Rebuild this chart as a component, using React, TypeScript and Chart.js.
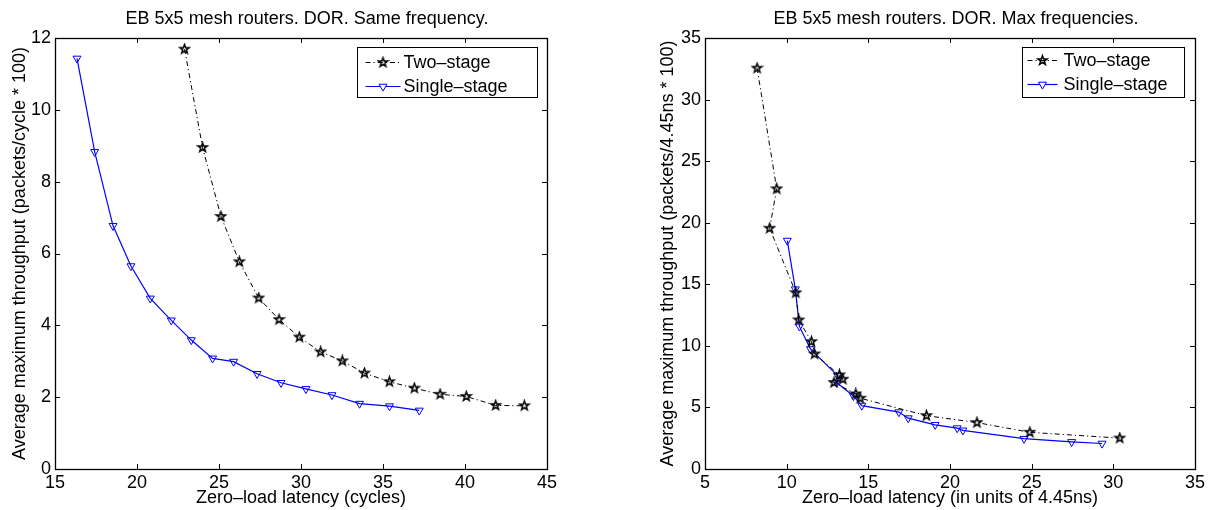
import React, { useEffect, useRef } from 'react';
import { Chart, registerables } from 'chart.js';

Chart.register(...registerables);

const FONT = "'Liberation Sans', Arial, Helvetica, sans-serif";

// ---------- Left chart: same frequency ----------
const leftTitle = 'EB 5x5 mesh routers. DOR. Same frequency.';
const leftXLabel = 'Zero–load latency (cycles)';
const leftYLabel = 'Average maximum throughput (packets/cycle * 100)';
const leftXTicks = [15, 20, 25, 30, 35, 40, 45];
const leftYTicks = [0, 2, 4, 6, 8, 10, 12];
const leftTwoStageX = [22.9, 24.0, 25.12, 26.24, 27.42, 28.66, 29.9, 31.2, 32.52, 33.87, 35.39, 36.91, 38.48, 40.08, 41.87, 43.62];
const leftTwoStageY = [11.69, 8.95, 7.03, 5.77, 4.76, 4.16, 3.67, 3.26, 3.01, 2.67, 2.43, 2.25, 2.08, 2.02, 1.77, 1.76];
const leftSingleStageX = [16.34, 17.42, 18.54, 19.63, 20.81, 22.09, 23.31, 24.61, 25.89, 27.32, 28.78, 30.3, 31.89, 33.57, 35.4, 37.21];
const leftSingleStageY = [11.43, 8.83, 6.77, 5.65, 4.75, 4.14, 3.59, 3.08, 2.99, 2.65, 2.4, 2.23, 2.06, 1.82, 1.75, 1.63];

// ---------- Right chart: max frequencies ----------
const rightTitle = 'EB 5x5 mesh routers. DOR. Max frequencies.';
const rightXLabel = 'Zero–load latency (in units of 4.45ns)';
const rightYLabel = 'Average maximum throughput (packets/4.45ns * 100)';
const rightXTicks = [5, 10, 15, 20, 25, 30, 35];
const rightYTicks = [0, 5, 10, 15, 20, 25, 30, 35];
const rightTwoStageX = [8.19, 9.39, 8.96, 10.56, 10.74, 11.52, 11.71, 13.23, 13.44, 12.9, 14.23, 14.5, 18.56, 21.65, 24.89, 30.39];
const rightTwoStageY = [32.55, 22.75, 19.55, 14.31, 12.1, 10.34, 9.34, 7.64, 7.29, 7.02, 6.1, 5.75, 4.33, 3.77, 2.98, 2.51];
const rightSingleStageX = [10.04, 10.53, 10.78, 11.46, 13.12, 13.05, 14.09, 14.6, 16.87, 17.44, 19.09, 20.44, 20.79, 24.53, 27.45, 29.31];
const rightSingleStageY = [18.55, 14.6, 11.58, 9.74, 7.58, 7.02, 5.93, 5.15, 4.62, 4.13, 3.59, 3.32, 3.14, 2.46, 2.2, 2.07];

const seriesNames = ['Two–stage', 'Single–stage'];

function makeStar(): HTMLCanvasElement {
  const c = document.createElement('canvas');
  c.width = 13;
  c.height = 13;
  const ctx = c.getContext('2d')!;
  const cx = 6.5, cy = 6.5, R = 4.8, r = 1.9;
  ctx.beginPath();
  for (let i = 0; i < 10; i++) {
    const rad = (Math.PI / 5) * i - Math.PI / 2;
    const rr = i % 2 === 0 ? R : r;
    const x = cx + Math.cos(rad) * rr;
    const y = cy + Math.sin(rad) * rr;
    if (i === 0) ctx.moveTo(x, y);
    else ctx.lineTo(x, y);
  }
  ctx.closePath();
  ctx.strokeStyle = '#000';
  ctx.lineWidth = 1.5;
  ctx.lineJoin = 'miter';
  ctx.stroke();
  return c;
}

const pts = (xs: number[], ys: number[]) => xs.map((x, i) => ({ x, y: ys[i] }));

const framePlugin = {
  id: 'matlabFrame',
  afterDraw(chart: any) {
    const { ctx, chartArea: a, scales } = chart;
    ctx.save();
    ctx.strokeStyle = '#000';
    ctx.lineWidth = 1;
    ctx.beginPath();
    const tl = 5;
    scales.x.ticks.forEach((t: any) => {
      const px = Math.round(scales.x.getPixelForValue(t.value)) + 0.5;
      ctx.moveTo(px, a.bottom);
      ctx.lineTo(px, a.bottom - tl);
      ctx.moveTo(px, a.top);
      ctx.lineTo(px, a.top + tl);
    });
    scales.y.ticks.forEach((t: any) => {
      const py = Math.round(scales.y.getPixelForValue(t.value)) + 0.5;
      ctx.moveTo(a.left, py);
      ctx.lineTo(a.left + tl, py);
      ctx.moveTo(a.right, py);
      ctx.lineTo(a.right - tl, py);
    });
    ctx.stroke();
    ctx.lineWidth = 1.3;
    ctx.strokeRect(Math.round(a.left) + 0.5, Math.round(a.top) + 0.5, Math.round(a.right - a.left), Math.round(a.bottom - a.top));
    ctx.restore();
  },
};

function makeTitlePlugin(text: string, dx: number, baseline: number) {
  return {
    id: 'centerTitle',
    afterDraw(chart: any) {
      const { ctx, chartArea: a } = chart;
      ctx.save();
      ctx.font = `18px ${FONT}`;
      ctx.fillStyle = '#000';
      ctx.textAlign = 'center';
      ctx.textBaseline = 'alphabetic';
      ctx.fillText(text, (a.left + a.right) / 2 + dx, baseline);
      ctx.restore();
    },
  };
}

interface LegendCfg {
  rightOffset: number;
  topOffset: number;
  width: number;
  height: number;
  rowTop: number;
  rowGap: number;
  lineStart: number;
  lineLen: number;
  textStart: number;
}

function makeLegendPlugin(cfg: LegendCfg, star: HTMLCanvasElement) {
  return {
    id: 'boxLegend',
    afterDraw(chart: any) {
      const { ctx, chartArea: a } = chart;
      const x0 = Math.round(a.right - cfg.rightOffset - cfg.width) + 0.5;
      const y0 = Math.round(a.top + cfg.topOffset) + 0.5;
      ctx.save();
      ctx.fillStyle = '#fff';
      ctx.fillRect(x0, y0, cfg.width, cfg.height);
      ctx.strokeStyle = '#000';
      ctx.lineWidth = 1;
      ctx.strokeRect(x0, y0, cfg.width, cfg.height);
      chart.data.datasets.forEach((ds: any, i: number) => {
        const y = Math.round(y0 + cfg.rowTop + i * cfg.rowGap) + 0.5;
        ctx.strokeStyle = ds.borderColor;
        ctx.lineWidth = ds.borderWidth;
        ctx.setLineDash(ds.borderDash || []);
        ctx.beginPath();
        ctx.moveTo(x0 + cfg.lineStart, y);
        ctx.lineTo(x0 + cfg.lineStart + cfg.lineLen, y);
        ctx.stroke();
        ctx.setLineDash([]);
        const cx = x0 + cfg.lineStart + cfg.lineLen / 2;
        if (ds.pointStyle === 'triangle') {
          const r = ds.pointRadius;
          ctx.strokeStyle = ds.pointBorderColor;
          ctx.lineWidth = ds.pointBorderWidth;
          ctx.beginPath();
          ctx.moveTo(cx, y + r);
          ctx.lineTo(cx - r * 0.866, y - r / 2);
          ctx.lineTo(cx + r * 0.866, y - r / 2);
          ctx.closePath();
          ctx.fillStyle = '#fff';
          ctx.fill();
          ctx.stroke();
        } else {
          ctx.drawImage(star, cx - star.width / 2, y - star.height / 2);
        }
        ctx.fillStyle = '#000';
        ctx.font = `18px ${FONT}`;
        ctx.textAlign = 'left';
        ctx.textBaseline = 'middle';
        ctx.fillText(ds.label, x0 + cfg.textStart, y + 1);
      });
      ctx.restore();
    },
  };
}

interface PanelProps {
  title: string;
  xLabel: string;
  yLabel: string;
  xTicks: number[];
  yTicks: number[];
  twoX: number[];
  twoY: number[];
  singleX: number[];
  singleY: number[];
  width: number;
  padLeft: number;
  padRight: number;
  yAxisWidth: number;
  legend: LegendCfg;
  titleDx: number;
  titleBaseline: number;
}

function Panel(p: PanelProps) {
  const ref = useRef<HTMLCanvasElement | null>(null);
  useEffect(() => {
    if (!ref.current) return;
    const star = makeStar();
    const tickFont = { family: FONT, size: 18 };
    const chart = new Chart(ref.current, {
      type: 'scatter',
      data: {
        datasets: [
          {
            label: seriesNames[0],
            data: pts(p.twoX, p.twoY),
            showLine: true,
            borderColor: '#000',
            borderWidth: 1,
            borderDash: [5, 3, 1.2, 3],
            pointStyle: star as any,
            pointRadius: 5,
            pointBorderColor: '#000',
            pointBackgroundColor: 'rgba(0,0,0,0)',
            tension: 0,
          },
          {
            label: seriesNames[1],
            data: pts(p.singleX, p.singleY),
            showLine: true,
            borderColor: '#0000ff',
            borderWidth: 1.2,
            pointStyle: 'triangle',
            rotation: 180,
            pointRadius: 4.6,
            pointBorderWidth: 1,
            pointBorderColor: '#0000ff',
            pointBackgroundColor: 'rgba(0,0,0,0)',
            tension: 0,
          } as any,
        ],
      },
      options: {
        animation: false,
        responsive: false,
        devicePixelRatio: 1,
        events: [],
        layout: { padding: { left: p.padLeft, right: p.padRight, top: 38, bottom: 0 } },
        plugins: { legend: { display: false }, title: { display: false }, tooltip: { enabled: false } },
        scales: {
          x: {
            type: 'linear',
            min: p.xTicks[0],
            max: p.xTicks[p.xTicks.length - 1],
            grid: { display: false, drawTicks: false },
            border: { display: false },
            ticks: { font: tickFont, color: '#000', padding: 3, maxRotation: 0, autoSkip: false },
            title: { display: true, text: p.xLabel, font: tickFont, color: '#000', padding: { top: 0, bottom: 1 } },
            afterBuildTicks: (s: any) => {
              s.ticks = p.xTicks.map((v) => ({ value: v }));
            },
            afterFit: (s: any) => {
              s.height = 41;
            },
          },
          y: {
            type: 'linear',
            min: p.yTicks[0],
            max: p.yTicks[p.yTicks.length - 1],
            grid: { display: false, drawTicks: false },
            border: { display: false },
            ticks: { font: tickFont, color: '#000', padding: 4, autoSkip: false },
            title: { display: true, text: p.yLabel, font: tickFont, color: '#000', padding: { top: 9, bottom: 0 } },
            afterBuildTicks: (s: any) => {
              s.ticks = p.yTicks.map((v) => ({ value: v }));
            },
            afterFit: (s: any) => {
              s.width = p.yAxisWidth;
            },
          },
        },
      } as any,
      plugins: [framePlugin, makeTitlePlugin(p.title, p.titleDx, p.titleBaseline), makeLegendPlugin(p.legend, star)],
    });
    return () => chart.destroy();
  }, []);
  return <canvas ref={ref} width={p.width} height={510} style={{ display: 'block', width: p.width, height: 510 }} />;
}

export default function App() {
  return (
    <div style={{ position: 'absolute', left: 0, top: 0, width: 1209, height: 510, background: '#fff', display: 'flex' }}>
      <Panel
        title={leftTitle}
        xLabel={leftXLabel}
        yLabel={leftYLabel}
        xTicks={leftXTicks}
        yTicks={leftYTicks}
        twoX={leftTwoStageX}
        twoY={leftTwoStageY}
        singleX={leftSingleStageX}
        singleY={leftSingleStageY}
        width={604}
        padLeft={0}
        padRight={57}
        yAxisWidth={55}
        titleDx={6}
        titleBaseline={24}
        legend={{ rightOffset: 10, topOffset: 9, width: 180, height: 50, rowTop: 14.5, rowGap: 23.5, lineStart: 8, lineLen: 35, textStart: 46 }}
      />
      <Panel
        title={rightTitle}
        xLabel={rightXLabel}
        yLabel={rightYLabel}
        xTicks={rightXTicks}
        yTicks={rightYTicks}
        twoX={rightTwoStageX}
        twoY={rightTwoStageY}
        singleX={rightSingleStageX}
        singleY={rightSingleStageY}
        width={605}
        padLeft={44}
        padRight={14}
        yAxisWidth={57}
        titleDx={6}
        titleBaseline={24}
        legend={{ rightOffset: 11, topOffset: 9, width: 162, height: 50, rowTop: 12.5, rowGap: 23.5, lineStart: 5, lineLen: 30, textStart: 41 }}
      />
    </div>
  );
}
